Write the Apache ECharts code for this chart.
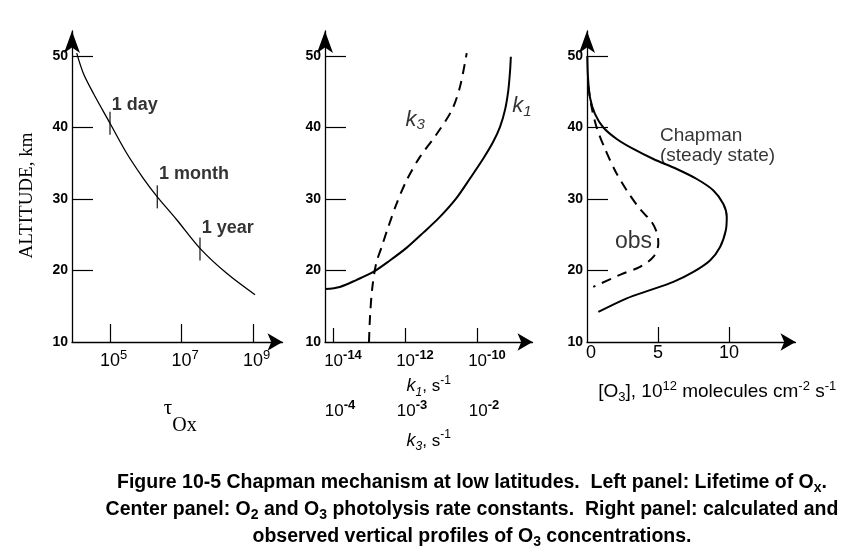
<!DOCTYPE html>
<html><head><meta charset="utf-8">
<script src="https://cdn.jsdelivr.net/npm/echarts@6/dist/echarts.min.js"></script>
<style>html,body{margin:0;padding:0;background:#fff}#c{width:862px;height:556px}</style>
</head><body><div id="c"></div>
<script>
// ---------- Left panel: lifetime of Ox (log10 seconds) vs altitude (km)
const tauLog10 = [4.069, 4.253, 4.533, 5.0, 5.467, 5.931, 6.323, 6.866, 7.517, 8.264, 9.056];
const tauAlt   = [50.4, 47.6, 44.8, 40.6, 36.4, 32.9, 30.3, 27.1, 23.1, 19.6, 16.6];
const markerNames = ['1 day', '1 month', '1 year'];
const markerLog10 = [5.0, 6.323, 7.517];
const markerAlt   = [40.6, 30.3, 23.0];
const tauTicks = [5, 7, 9];

// ---------- Center panel: photolysis rate constants (log10 s^-1) vs altitude
const k1Log10 = [-14.22, -13.81, -13.34, -12.88, -12.42, -11.95, -11.49, -11.03, -10.56, -10.19, -9.82, -9.55, -9.36, -9.22, -9.13, -9.08, -9.06];
const k1Alt   = [17.4, 17.7, 18.7, 19.8, 21.4, 23.2, 25.3, 27.5, 30.2, 32.9, 35.7, 38.0, 40.1, 42.5, 45.2, 48.0, 49.9];
const k3Log10 = [-3.50, -3.486, -3.455, -3.40, -3.324, -3.232, -3.115, -2.976, -2.792, -2.569, -2.351, -2.236, -2.143];
const k3Alt   = [10.0, 13.5, 17.5, 21.0, 23.3, 26.1, 29.4, 32.65, 35.9, 38.95, 42.4, 45.7, 50.4];
const k1Ticks = [-14, -12, -10];
const k3Ticks = [-4, -3, -2];

// ---------- Right panel: O3 (10^12 molecules cm^-2 s^-1) vs altitude
const chapmanO3  = [0.02, 0.07, 0.21, 0.56, 1.15, 2.09, 3.26, 4.67, 6.32, 7.73, 8.9, 9.6, 9.84, 9.77, 9.37, 8.66, 7.49, 6.08, 4.44, 2.8, 0.8];
const chapmanAlt = [50.0, 47.0, 44.2, 41.9, 40.0, 38.4, 37.0, 35.6, 34.2, 32.8, 31.2, 29.3, 27.5, 25.6, 23.3, 21.4, 19.8, 18.4, 17.25, 16.1, 14.2];
const obsO3  = [0.09, 0.33, 0.68, 1.27, 1.97, 2.8, 3.73, 4.55, 4.95, 5.02, 4.67, 3.73, 2.44, 0.44];
const obsAlt = [45.8, 42.8, 40.0, 37.0, 34.0, 31.2, 28.6, 26.8, 25.1, 23.75, 21.9, 20.5, 19.5, 17.7];
const o3Ticks = [0, 5, 10];
const altTicks = [10, 20, 30, 40, 50];
const altTickMarks = [20, 30, 40, 50];

const F = 'Liberation Sans';
const SERIF = 'Liberation Serif';
const BLACK = '#000';
const zip = (a, b) => a.map((v, i) => [v, b[i]]);

const supRich = (base, sup, supBold) => ({
  b: {fontFamily: F, fontSize: base, lineHeight: 24, color: BLACK},
  s: {fontFamily: F, fontSize: sup, fontWeight: supBold ? 'bold' : 'normal', lineHeight: 10, verticalAlign: 'top', color: BLACK}
});

function yAx(grid) {
  return {
    type: 'value', gridIndex: grid, min: 10, max: 53.5, interval: 10,
    axisLine: {show: true, onZero: false, symbol: ['none', 'arrow'], symbolSize: [12, 22], lineStyle: {color: BLACK, width: 1.3}},
    axisTick: {show: true, inside: true, length: 21, customValues: altTickMarks, lineStyle: {color: BLACK, width: 1.2}},
    axisLabel: {customValues: altTicks, fontFamily: F, fontWeight: 'bold', fontSize: 14, color: BLACK, margin: 4},
    splitLine: {show: false}
  };
}
const xLine = {show: true, onZero: false, symbol: ['none', 'arrow'], symbolSize: [13, 15], lineStyle: {color: BLACK, width: 1.3}};
const labelOffsets = [[0, -18], [0, -23], [0, -21]];

const option = {
  animation: false,
  backgroundColor: '#fff',
  grid: [
    {left: 72, top: 31, width: 210.5, height: 311, outerBoundsMode: 'none'},
    {left: 325, top: 31, width: 207.5, height: 311, outerBoundsMode: 'none'},
    {left: 587, top: 31, width: 208.5, height: 311, outerBoundsMode: 'none'}
  ],
  xAxis: [
    {
      type: 'value', gridIndex: 0, min: 3.937, max: 9.825, position: 'bottom',
      axisLine: xLine,
      axisTick: {show: true, inside: true, length: 18, customValues: tauTicks, lineStyle: {color: BLACK, width: 1.2}},
      axisLabel: {customValues: tauTicks, margin: 7, padding: [0, 0, 0, 7],
        formatter: v => '{b|10}{s|' + Math.round(v) + '}', rich: supRich(18, 13, false)},
      splitLine: {show: false},
      name: '{t|τ}{o|Ox}', nameLocation: 'middle', nameGap: 56,
      nameTextStyle: {padding: [0, 0, 0, 6], rich: {
        t: {fontFamily: SERIF, fontSize: 21, lineHeight: 20, verticalAlign: 'top', color: BLACK},
        o: {fontFamily: SERIF, fontSize: 20, lineHeight: 56, color: BLACK}
      }}
    },
    {
      type: 'value', gridIndex: 1, min: -14.222, max: -8.458, position: 'bottom',
      axisLine: xLine,
      axisTick: {show: true, inside: true, length: 14, customValues: k1Ticks, lineStyle: {color: BLACK, width: 1.2}},
      axisLabel: {customValues: k1Ticks, margin: 7, padding: [0, 0, 0, 20],
        formatter: v => '{b|10}{s|-' + Math.round(-v) + '}', rich: supRich(17, 13, true)},
      splitLine: {show: false},
      name: '{i|k}{sub|1}{t|, s}{s|-1}', nameLocation: 'middle', nameGap: 29,
      nameTextStyle: {rich: {
        i: {fontFamily: F, fontStyle: 'italic', fontSize: 18, lineHeight: 24, color: BLACK},
        sub: {fontFamily: F, fontStyle: 'italic', fontSize: 12, lineHeight: 12, verticalAlign: 'bottom', color: BLACK},
        t: {fontFamily: F, fontSize: 17, lineHeight: 24, color: BLACK},
        s: {fontFamily: F, fontSize: 12, lineHeight: 10, verticalAlign: 'top', color: BLACK}
      }}
    },
    {
      type: 'value', gridIndex: 1, min: -4.111, max: -1.229, position: 'bottom',
      axisLine: {show: false}, axisTick: {show: false},
      axisLabel: {customValues: k3Ticks, margin: 57, padding: [0, 0, 0, 14],
        formatter: v => '{b|10}{s|-' + Math.round(-v) + '}', rich: supRich(17, 13, true)},
      splitLine: {show: false},
      name: '{i|k}{sub|3}{t|, s}{s|-1}', nameLocation: 'middle', nameGap: 87,
      nameTextStyle: {rich: {
        i: {fontFamily: F, fontStyle: 'italic', fontSize: 18, lineHeight: 24, color: BLACK},
        sub: {fontFamily: F, fontStyle: 'italic', fontSize: 12, lineHeight: 12, verticalAlign: 'bottom', color: BLACK},
        t: {fontFamily: F, fontSize: 17, lineHeight: 24, color: BLACK},
        s: {fontFamily: F, fontSize: 12, lineHeight: 10, verticalAlign: 'top', color: BLACK}
      }}
    },
    {
      type: 'value', gridIndex: 2, min: 0, max: 14.68, position: 'bottom',
      axisLine: xLine,
      axisTick: {show: true, inside: true, length: 15, customValues: [5, 10], lineStyle: {color: BLACK, width: 1.2}},
      axisLabel: {customValues: o3Ticks, margin: 1, fontFamily: F, fontSize: 18, lineHeight: 20, color: BLACK,
        formatter: v => v === 0 ? '{z|0}' : String(Math.round(v)),
        rich: {z: {fontFamily: F, fontSize: 18, lineHeight: 20, color: BLACK, padding: [0, 0, 0, 8]}}},
      splitLine: {show: false},
      name: '{t|[O}{sub|3}{t|], 10}{s|12}{t| molecules cm}{s|-2}{t| s}{s|-1}', nameLocation: 'middle', nameGap: 38,
      nameTextStyle: {padding: [0, 0, 0, 52], rich: {
        t: {fontFamily: F, fontSize: 19, lineHeight: 24, color: BLACK},
        sub: {fontFamily: F, fontSize: 13, lineHeight: 12, verticalAlign: 'bottom', color: BLACK},
        s: {fontFamily: F, fontSize: 13, lineHeight: 10, verticalAlign: 'top', color: BLACK}
      }}
    }
  ],
  yAxis: [
    Object.assign(yAx(0), {
      name: 'ALTITUDE, km', nameLocation: 'middle', nameRotate: 90, nameGap: 35,
      nameTextStyle: {fontFamily: SERIF, fontSize: 19, color: BLACK, padding: [0, 18, 0, 0]}
    }),
    yAx(1),
    yAx(2)
  ],
  series: [
    {type: 'line', xAxisIndex: 0, yAxisIndex: 0, data: zip(tauLog10, tauAlt), showSymbol: false, smooth: 0.3,
      lineStyle: {color: BLACK, width: 1.3}},
    {type: 'scatter', xAxisIndex: 0, yAxisIndex: 0, symbol: 'rect', symbolSize: [1.4, 23],
      itemStyle: {color: BLACK},
      data: markerNames.map((n, i) => ({name: n, value: [markerLog10[i], markerAlt[i]], label: {offset: labelOffsets[i]}})),
      label: {show: true, position: 'right', distance: 1, formatter: '{b}',
        fontFamily: F, fontWeight: 'bold', fontSize: 18, color: BLACK}},
    {type: 'line', xAxisIndex: 1, yAxisIndex: 1, data: zip(k1Log10, k1Alt), showSymbol: false, smooth: 0.3,
      lineStyle: {color: BLACK, width: 2}},
    {type: 'line', xAxisIndex: 2, yAxisIndex: 1, data: zip(k3Log10, k3Alt), showSymbol: false, smooth: 0.3,
      lineStyle: {color: BLACK, width: 2, type: [10, 7]}},
    {type: 'scatter', xAxisIndex: 1, yAxisIndex: 1, symbolSize: 0, silent: true,
      data: [{value: [-11.72, 41.1], name: '3'}, {value: [-8.75, 43.0], name: '1'}],
      label: {show: true, position: 'inside', formatter: p => '{i|k}{sub|' + p.name + '}',
        rich: {
          i: {fontFamily: F, fontStyle: 'italic', fontSize: 22, lineHeight: 26, color: BLACK},
          sub: {fontFamily: F, fontStyle: 'italic', fontSize: 15, lineHeight: 14, verticalAlign: 'bottom', color: BLACK}
        }}},
    {type: 'line', xAxisIndex: 3, yAxisIndex: 2, data: zip(chapmanO3, chapmanAlt), showSymbol: false, smooth: 0.3,
      lineStyle: {color: BLACK, width: 2}},
    {type: 'line', xAxisIndex: 3, yAxisIndex: 2, data: zip(obsO3, obsAlt), showSymbol: false, smooth: 0.3,
      lineStyle: {color: BLACK, width: 2, type: [10, 7]}},
    {type: 'scatter', xAxisIndex: 3, yAxisIndex: 2, symbolSize: 0, silent: true,
      data: [{value: [5.14, 37.46], name: 'Chapman\n(steady state)'}],
      label: {show: true, position: 'right', distance: 0, formatter: '{b}', align: 'left',
        fontFamily: F, fontSize: 19, lineHeight: 20, color: BLACK}},
    {type: 'scatter', xAxisIndex: 3, yAxisIndex: 2, symbolSize: 0, silent: true,
      data: [{value: [1.97, 24.1], name: 'obs'}],
      label: {show: true, position: 'right', distance: 0, formatter: '{b}',
        fontFamily: F, fontSize: 23, color: BLACK}}
  ],
  graphic: (function () {
    const rich = {
      b: {fontFamily: F, fontWeight: 'bold', fontSize: 19.5, lineHeight: 24, fill: BLACK, color: BLACK},
      sub: {fontFamily: F, fontWeight: 'bold', fontSize: 14, lineHeight: 12, verticalAlign: 'bottom', fill: BLACK, color: BLACK}
    };
    const lines = [
      '{b|Figure 10-5 Chapman mechanism at low latitudes.  Left panel: Lifetime of O}{sub|x}{b|.}',
      '{b|Center panel: O}{sub|2}{b| and O}{sub|3}{b| photolysis rate constants.  Right panel: calculated and}',
      '{b|observed vertical profiles of O}{sub|3}{b| concentrations.}'
    ];
    const ys = [483, 510, 537];
    return lines.map((t, i) => ({
      type: 'text', x: 472, y: ys[i],
      style: {text: t, rich: rich, align: 'center', verticalAlign: 'middle', fill: BLACK}
    }));
  })()
};

const chart = echarts.init(document.getElementById('c'), null, {renderer: 'canvas'});
chart.setOption(option);
</script>
</body></html>
